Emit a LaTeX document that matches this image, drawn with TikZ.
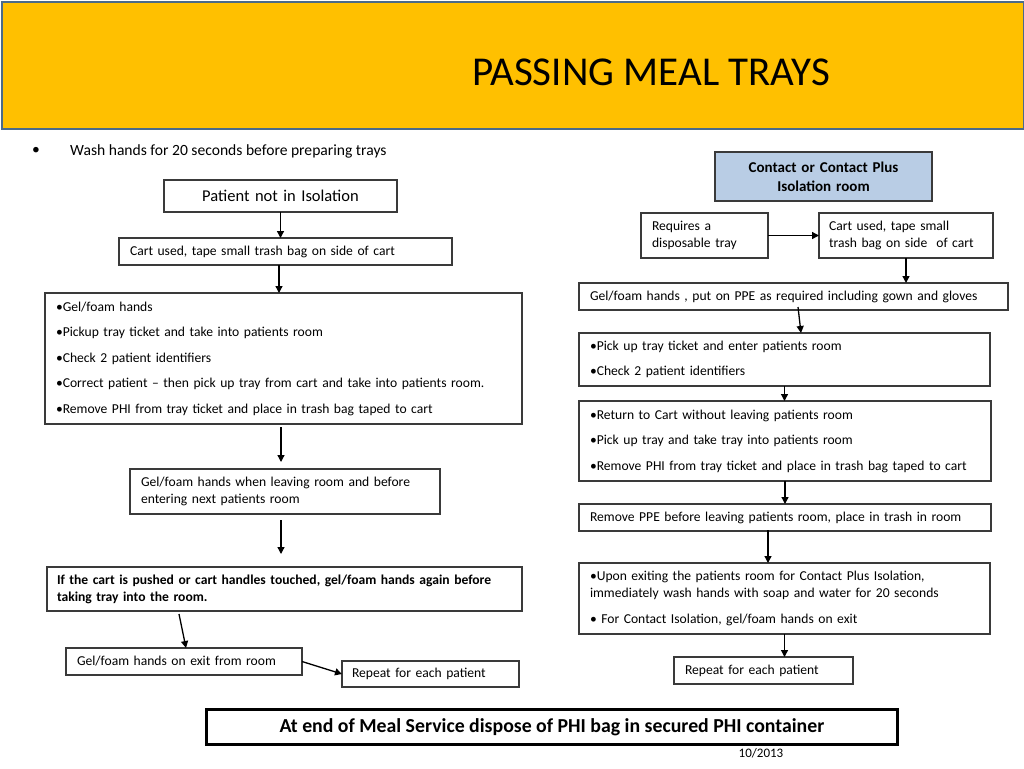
\documentclass[tikz,border=0pt]{standalone}
\usepackage{fontspec}
\setmainfont{Carlito}
\usetikzlibrary{arrows.meta}
\definecolor{hdrfill}{HTML}{FFC000}
\definecolor{hdrline}{HTML}{4A6A8A}
\definecolor{bluefill}{HTML}{B9CDE5}
\definecolor{boxline}{HTML}{3A3A3A}
\begin{document}
\begin{tikzpicture}[x=1pt,y=-1pt,
  box/.style={draw=boxline, line width=1.1pt, fill=white, anchor=north west,
    inner xsep=11pt, inner ysep=2pt, align=left, outer sep=0pt,
    font=\fontsize{13.6}{17}\selectfont},
  arr/.style={-{Triangle[length=7pt,width=7pt]}, line width=1.3pt, black}]
\useasboundingbox (0,0) rectangle (1024,768);
\fill[white] (0,0) rectangle (1024,768);
% header
\node[draw=hdrline, line width=2pt, fill=hdrfill, anchor=north west, minimum width=1022pt, minimum height=127pt, inner sep=0pt] (hdr) at (1,1) {};
\node[font=\fontsize{41}{44}\selectfont, inner sep=0pt] (title) at (651,72) {PASSING MEAL TRAYS};
% intro bullet
\node[font=\fontsize{15.6}{18}\selectfont, inner sep=0pt] (dot) at (36,151) {•};
\node[font=\fontsize{15.6}{18}\selectfont, anchor=west, inner sep=0pt] (wash) at (70,151) {Wash hands for 20 seconds before preparing trays};
% left column
\node[box, align=center, text width=211pt, minimum height=32pt, font=\fontsize{16.5}{19}\selectfont] (b1) at (164,180) {Patient not in Isolation};
\node[box, text width=311pt, minimum height=27pt] (b2) at (119,238) {Cart used, tape small trash bag on side of cart};
\node[box, text width=455pt, minimum height=131pt] (b3) at (45,293) {•Gel/foam hands\\[8.5pt]•Pickup tray ticket and take into patients room\\[8.5pt]•Check 2 patient identifiers\\[8.5pt]•Correct patient – then pick up tray from cart and take into patients room.\\[8.5pt]•Remove PHI from tray ticket and place in trash bag taped to cart};
\node[box, text width=288pt, minimum height=45pt] (b4) at (130,469) {Gel/foam hands when leaving room and before\\entering next patients room};
\node[box, text width=455pt, minimum height=44pt, inner xsep=10pt, font=\bfseries\fontsize{13.6}{17}\selectfont] (b5) at (47,567) {If the cart is pushed or cart handles touched, gel/foam hands again before\\taking tray into the room.};
\node[box, text width=214pt, minimum height=27pt] (b6) at (66,648) {Gel/foam hands on exit from room};
\node[box, text width=157pt, minimum height=26pt, inner xsep=10pt] (b7) at (342,661) {Repeat for each patient};
% right column
\node[box, fill=bluefill, align=center, text width=195pt, minimum height=49pt, font=\bfseries\fontsize{15}{19}\selectfont] (r0) at (715,152) {Contact or Contact Plus\\Isolation room};
\node[box, text width=105pt, minimum height=45pt] (r1) at (641,213) {Requires a\\disposable tray};
\node[box, text width=154pt, minimum height=45pt, inner xsep=10pt] (r2) at (819,213) {Cart used, tape small\\trash bag on side\ \ of cart};
\node[box, text width=407pt, minimum height=27pt] (r3) at (579,283) {Gel/foam hands , put on PPE as required including gown and gloves};
\node[box, text width=389pt, minimum height=53pt] (r4) at (579,333) {•Pick up tray ticket and enter patients room\\[8.5pt]•Check 2 patient identifiers};
\node[box, text width=390pt, minimum height=80pt] (r5) at (579,401) {•Return to Cart without leaving patients room\\[8.5pt]•Pick up tray and take tray into patients room\\[8.5pt]•Remove PHI from tray ticket and place in trash bag taped to cart};
\node[box, text width=390pt, minimum height=27pt] (r6) at (579,504) {Remove PPE before leaving patients room, place in trash in room};
\node[box, text width=389pt, minimum height=71pt] (r7) at (579,563) {•Upon exiting the patients room for Contact Plus Isolation,\\immediately wash hands with soap and water for 20 seconds\\[9pt]• For Contact Isolation, gel/foam hands on exit};
\node[box, text width=157pt, minimum height=27pt] (r8) at (674,657) {Repeat for each patient};
% bottom
\node[draw=black, line width=2.8pt, anchor=north west, minimum width=691pt, minimum height=35pt, inner sep=0pt, font=\bfseries\fontsize{19.8}{22}\selectfont] (bot) at (205,708) {At end of Meal Service dispose of PHI bag in secured PHI container};
\node[font=\fontsize{13}{15}\selectfont, inner sep=0pt] (date) at (761,753) {10/2013};
% left arrows
\draw[arr] (b1.south) -- (b1.south |- b2.north);
\draw[arr] ([xshift=-6.5pt]b2.south) -- ([xshift=-4.5pt]b3.north);
\draw[arr] ([xshift=-2.5pt,yshift=-3pt]b3.south) -- ([xshift=-4pt,yshift=7pt]b4.north);
\draw[arr] ([xshift=-4pt,yshift=-6pt]b4.south) -- ([xshift=-3.5pt,yshift=13pt]b5.north);
\draw[arr] ([xshift=-105.5pt,yshift=-3pt]b5.south) -- ([xshift=2pt]b6.north);
\draw[arr] (b6.east) -- (b7.west);
% right arrows
\draw[arr] (r1.east) -- (r2.west);
\draw[arr] (r2.south) -- (r2.south |- r3.north);
\draw[arr] ([xshift=4.5pt,yshift=3pt]r3.south) -- ([xshift=16.5pt]r4.north);
\draw[arr] (r4.south) -- (r4.south |- r5.north);
\draw[arr] (r5.south) -- (r5.south |- r6.north);
\draw[arr] ([xshift=-17pt,yshift=1pt]r6.south) -- ([xshift=-16.5pt]r7.north);
\draw[arr] (r7.south) -- (r7.south |- r8.north);
\end{tikzpicture}
\end{document}
